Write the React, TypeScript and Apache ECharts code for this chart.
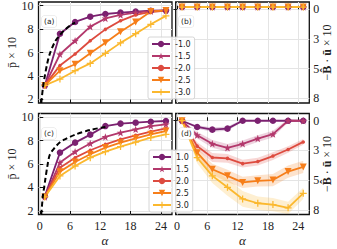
import React, { useEffect, useRef } from 'react';
import * as echarts from 'echarts';

// ---------- data ----------
const alpha = [1, 4, 7, 10, 13, 16, 19, 22, 25];
const negLabels = ['-1.0', '-1.5', '-2.0', '-2.5', '-3.0'];
const posLabels = ['1.0', '1.5', '2.0', '2.5', '3.0'];

const xTicks = [0, 6, 12, 18, 24];
const pTicks = [2, 4, 6, 8, 10];
const bTicks = [0, 8 / 3, 16 / 3, 8];

// (a) p̄ × 10, negative exponents
const pA_m10 = [3.2, 7.6, 8.6, 9.05, 9.28, 9.4, 9.48, 9.56, 9.58];
const pA_m15 = [3.2, 5.85, 7.0, 8.2, 8.9, 9.2, 9.4, 9.52, 9.56];
const pA_m20 = [3.2, 4.9, 5.87, 7.0, 7.97, 8.7, 9.2, 9.45, 9.56];
const pA_m25 = [3.2, 4.45, 5.0, 5.93, 6.83, 7.77, 8.6, 9.5, 9.58];
const pA_m30 = [3.2, 3.74, 4.45, 5.07, 5.93, 6.82, 7.6, 8.4, 9.12];

// (b) −B·u × 10, negative exponents
const bB_m10 = [-0.2, -0.2, -0.2, -0.2, -0.2, -0.2, -0.2, -0.2, -0.2];
const bB_m15 = [-0.2, -0.2, -0.2, -0.2, -0.2, -0.2, -0.2, -0.2, -0.2];
const bB_m20 = [-0.2, -0.2, -0.2, -0.2, -0.2, -0.2, -0.2, -0.2, -0.2];
const bB_m25 = [-0.2, -0.2, -0.2, -0.2, -0.2, -0.2, -0.2, -0.2, -0.2];
const bB_m30 = [-0.2, -0.2, -0.2, -0.2, -0.2, -0.2, -0.2, -0.2, -0.2];

// (c) p̄ × 10, positive exponents
const pC_10 = [3.25, 6.97, 7.82, 8.5, 9.23, 9.44, 9.52, 9.6, 9.66];
const pC_15 = [3.2, 6.12, 7.05, 7.74, 8.3, 8.67, 8.95, 9.23, 9.38];
const pC_20 = [3.2, 5.69, 6.54, 7.17, 7.68, 8.1, 8.44, 8.76, 9.04];
const pC_25 = [3.2, 5.35, 6.17, 6.83, 7.4, 7.82, 8.19, 8.53, 8.81];
const pC_30 = [3.2, 4.98, 5.83, 6.54, 7.05, 7.48, 7.87, 8.25, 8.53];

// (d) −B·u × 10, positive exponents, with spread
const bD_10 = [0, 0.56, 0.8, 0.71, 0, 0, 0, 0, 0];
const bD_15 = [0, 1.3, 2.07, 2.43, 2.07, 1.6, 1.2, 0, 0];
const bD_20 = [0, 2.28, 3.3, 3.38, 3.85, 3.67, 3.17, 2.58, 1.9];
const bD_25 = [0, 2.87, 4.36, 4.95, 5.54, 5.4, 5.33, 4.56, 4.15];
const bD_30 = [0, 3.32, 4.95, 5.98, 7.02, 7.41, 7.53, 7.82, 6.52];

const eD_10 = [0, 0.15, 0.2, 0.2, 0.1, 0, 0, 0, 0];
const eD_15 = [0, 0.3, 0.35, 0.35, 0.3, 0.3, 0.3, 0.15, 0];
const eD_20 = [0, 0.35, 0.4, 0.4, 0.35, 0.35, 0.35, 0.3, 0.25];
const eD_25 = [0, 0.45, 0.5, 0.55, 0.5, 0.5, 0.55, 0.55, 0.55];
const eD_30 = [0, 0.5, 0.65, 0.75, 0.7, 0.6, 0.6, 0.55, 0.5];

// dashed reference curves
const dashA_x = [0.3, 0.6, 1, 1.5, 2, 3, 4, 5, 6, 7];
const dashA_y = [1.7, 2.9, 4.0, 5.1, 5.9, 6.9, 7.5, 7.95, 8.3, 8.55];
const dashC_x = [0.3, 0.6, 1, 1.5, 2, 3, 4, 5, 7, 10, 13];
const dashC_y = [1.7, 3.2, 4.4, 5.8, 6.8, 7.4, 7.85, 8.1, 8.5, 8.9, 9.15];

// ---------- styles ----------
const colors = ['#7b2170', '#b3386c', '#dd4b3f', '#f67e1a', '#fbb82e'];
const STAR =
  'path://M0,-10L2.35,-3.24L9.51,-3.09L3.8,1.24L5.88,8.09L0,4L-5.88,8.09L-3.8,1.24L-9.51,-3.09L-2.35,-3.24Z';
const PLUS = 'path://M-1.8,-10L1.8,-10L1.8,-1.8L10,-1.8L10,1.8L1.8,1.8L1.8,10L-1.8,10L-1.8,1.8L-10,1.8L-10,-1.8L-1.8,-1.8Z';
const markers: any[] = [
  { symbol: 'circle', size: 6.5, rotate: 0 },
  { symbol: STAR, size: 7.5, rotate: 0 },
  { symbol: 'circle', size: 3.5, rotate: 0 },
  { symbol: 'triangle', size: 7, rotate: 180 },
  { symbol: PLUS, size: 7, rotate: 0 },
];

const SERIF = 'Liberation Serif';
const SANS = 'DejaVu Sans';

const grids = [
  { left: 38.5, top: 2, width: 133.5, height: 101 },
  { left: 175.7, top: 2, width: 133.6, height: 101 },
  { left: 38.5, top: 113.5, width: 133.5, height: 101 },
  { left: 175.7, top: 113.5, width: 133.6, height: 101 },
];

function zip(xs: number[], ys: number[]) {
  return xs.map((x, i) => [x, ys[i]]);
}

function lineSeries(name: string, idx: number, ys: number[], k: number) {
  const m = markers[k];
  return {
    type: 'line',
    name,
    xAxisIndex: idx,
    yAxisIndex: idx,
    data: zip(alpha, ys),
    symbol: m.symbol,
    symbolSize: m.size,
    symbolRotate: m.rotate,
    showSymbol: true,
    color: colors[k],
    lineStyle: { color: colors[k], width: 1.8 },
    itemStyle: { color: colors[k] },
    z: 3,
  };
}

function bandSeries(idx: number, ys: number[], es: number[], k: number) {
  const data = alpha.map((a, i) => [a, ys[i] - es[i], ys[i] + es[i]]);
  return {
    type: 'custom',
    xAxisIndex: idx,
    yAxisIndex: idx,
    data,
    silent: true,
    clip: true,
    z: 1,
    encode: { x: 0, y: [1, 2] },
    renderItem: (params: any, api: any) => {
      if (params.dataIndex !== 0) return null;
      const upper = data.map((d) => api.coord([d[0], d[2]]));
      const lower = data.map((d) => api.coord([d[0], d[1]])).reverse();
      return {
        type: 'polygon',
        shape: { points: upper.concat(lower) },
        style: { fill: colors[k], opacity: 0.22 },
      };
    },
  };
}

function dashSeries(idx: number, xs: number[], ys: number[]) {
  return {
    type: 'line',
    xAxisIndex: idx,
    yAxisIndex: idx,
    data: zip(xs, ys),
    symbol: 'none',
    smooth: 0.3,
    lineStyle: { color: '#000', width: 2, type: [5, 3] },
    z: 4,
  };
}

function buildOption(): any {
  const xAxis = grids.map((_, i) => ({
    type: 'value',
    gridIndex: i,
    min: -0.25,
    max: 26.2,
    axisLine: { show: false },
    axisTick: {
      show: true,
      inside: true,
      length: 3.5,
      customValues: xTicks,
      lineStyle: { color: '#111', width: 1 },
    },
    axisLabel: {
      show: i >= 2,
      customValues: xTicks,
      margin: 5,
      fontFamily: SERIF,
      fontSize: 12,
      color: '#222',
    },
    splitLine: { show: true, lineStyle: { color: '#e4e4e4', width: 1 } },
  }));
  const yAxis = grids.map((_, i) => {
    const right = i % 2 === 1;
    return {
      type: 'value',
      gridIndex: i,
      position: right ? 'right' : 'left',
      min: right ? -0.65 : 1.7,
      max: right ? 8.42 : 10.3,
      inverse: right,
      axisLine: { show: false },
      axisTick: {
        show: true,
        inside: true,
        length: 3.5,
        customValues: right ? bTicks : pTicks,
        lineStyle: { color: '#111', width: 1 },
      },
      axisLabel: {
        show: true,
        customValues: right ? bTicks : pTicks,
        margin: right ? 4 : 5,
        fontFamily: SERIF,
        fontSize: 12,
        color: '#222',
        formatter: (v: number) => String(Math.round(v)),
      },
      splitLine: { show: true, lineStyle: { color: '#e4e4e4', width: 1 } },
    };
  });

  const series: any[] = [];
  const dVals = [bD_10, bD_15, bD_20, bD_25, bD_30];
  const dErr = [eD_10, eD_15, eD_20, eD_25, eD_30];
  dVals.forEach((v, k) => series.push(bandSeries(3, v, dErr[k], k)));

  series.push(dashSeries(0, dashA_x, dashA_y));
  series.push(dashSeries(2, dashC_x, dashC_y));

  [pA_m10, pA_m15, pA_m20, pA_m25, pA_m30].forEach((v, k) => series.push(lineSeries(negLabels[k], 0, v, k)));
  [bB_m10, bB_m15, bB_m20, bB_m25, bB_m30].forEach((v, k) => series.push(lineSeries(negLabels[k], 1, v, k)));
  [pC_10, pC_15, pC_20, pC_25, pC_30].forEach((v, k) => series.push(lineSeries(posLabels[k], 2, v, k)));
  dVals.forEach((v, k) => series.push(lineSeries(posLabels[k], 3, v, k)));

  const legendCommon = {
    orient: 'vertical',
    itemWidth: 18,
    itemHeight: 8,
    itemGap: 4,
    padding: [3, 4, 3, 3],
    textStyle: { fontSize: 8, fontFamily: SANS, color: '#222' },
    backgroundColor: 'rgba(255,255,255,0.85)',
    borderColor: '#cccccc',
    borderWidth: 0.8,
    borderRadius: 2,
    selectedMode: false,
    z: 10,
  };

  const panelLabel = (t: string, x: number, y: number) => ({
    type: 'text',
    x,
    y,
    z: 20,
    style: {
      text: t,
      fontSize: 7.5,
      fontFamily: SANS,
      fill: '#222',
      backgroundColor: '#ffffff',
      padding: [1.5, 2],
      borderColor: '#dddddd',
      borderWidth: 0.5,
      borderRadius: 2,
    },
  });

  const axisName = (t: string, x: number, y: number, rich?: any) => ({
    type: 'text',
    x,
    y,
    rotation: Math.PI / 2,
    style: {
      text: t,
      fontSize: 12,
      fontFamily: SERIF,
      fill: '#222',
      align: 'center',
      verticalAlign: 'middle',
      rich,
    },
  });

  const richB = {
    b: { fontWeight: 'bold', fontSize: 12, fontFamily: SERIF, fill: '#222' },
  };

  const alphaText = (x: number) => ({
    type: 'text',
    x,
    y: 240,
    style: {
      text: '\u03b1',
      fontSize: 13,
      fontStyle: 'italic',
      fontFamily: SERIF,
      fill: '#222',
      align: 'center',
      verticalAlign: 'middle',
    },
  });

  return {
    animation: false,
    backgroundColor: '#ffffff',
    grid: grids.map((g) => ({
      ...g,
      show: true,
      borderColor: '#111',
      borderWidth: 1.3,
      backgroundColor: 'transparent',
      containLabel: false,
      outerBoundsMode: 'none',
    })),
    xAxis,
    yAxis,
    legend: [
      { ...legendCommon, data: negLabels, left: 148, top: 37 },
      { ...legendCommon, data: posLabels, left: 149, top: 150 },
    ],
    series,
    graphic: [
      panelLabel('(a)', 42, 16),
      panelLabel('(b)', 179, 16),
      panelLabel('(c)', 42, 128),
      panelLabel('(d)', 179, 128),
      axisName('p\u0304 \u00d7 10', 12, 52.5),
      axisName('p\u0304 \u00d7 10', 12, 164),
      axisName('\u2212{b|B\u0302} \u00b7 {b|u\u0304} \u00d7 10', 327, 52.5, richB),
      axisName('\u2212{b|B\u0302} \u00b7 {b|u\u0304} \u00d7 10', 327, 164, richB),
      alphaText(105),
      alphaText(242.5),
    ],
  };
}

export default function App() {
  const ref = useRef<HTMLDivElement>(null);
  useEffect(() => {
    if (!ref.current) return;
    const chart = echarts.init(ref.current, null, { renderer: 'svg' });
    chart.setOption(buildOption());
    return () => chart.dispose();
  }, []);
  return (
    <div
      ref={ref}
      style={{ position: 'fixed', left: 0, top: 0, width: 337, height: 249, background: '#fff' }}
    />
  );
}
